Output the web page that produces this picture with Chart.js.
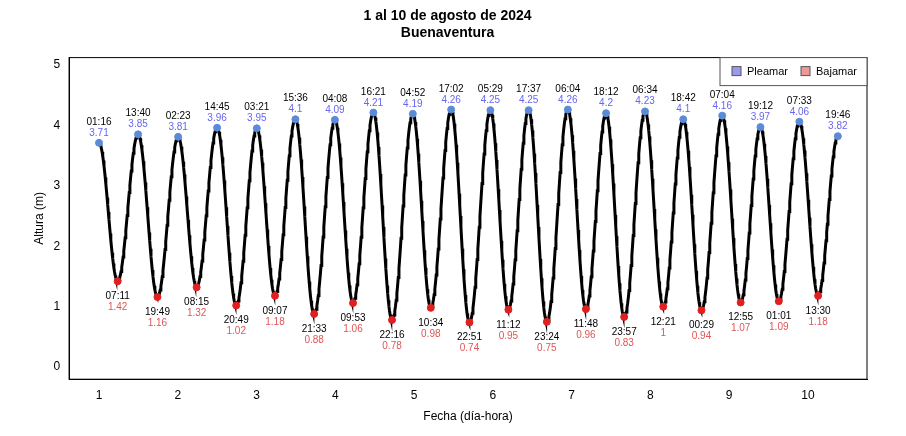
<!DOCTYPE html>
<html><head><meta charset="utf-8">
<script src="https://cdn.jsdelivr.net/npm/chart.js@4"></script>
<style>body{margin:0;background:#fff}#wrap{width:906px;height:436px}</style>
</head><body><div id="wrap"><canvas id="c"></canvas></div>
<script>
// extremes in order: day, time, height, type (H = pleamar, L = bajamar)
const days    = [1,1,1,1,2,2,2,2,3,3,3,3,4,4,4,4,5,5,5,5,6,6,6,6,7,7,7,7,8,8,8,9,9,9,9,10,10,10,10];
const times   = ['01:16','07:11','13:40','19:49','02:23','08:15','14:45','20:49','03:21','09:07','15:36','21:33','04:08','09:53','16:21','22:16','04:52','10:34','17:02','22:51','05:29','11:12','17:37','23:24','06:04','11:48','18:12','23:57','06:34','12:21','18:42','00:29','07:04','12:55','19:12','01:01','07:33','13:30','19:46'];
const heights = [3.71,1.42,3.85,1.16,3.81,1.32,3.96,1.02,3.95,1.18,4.1,0.88,4.09,1.06,4.21,0.78,4.19,0.98,4.26,0.74,4.25,0.95,4.25,0.75,4.26,0.96,4.2,0.83,4.23,1,4.1,0.94,4.16,1.07,3.97,1.09,4.06,1.18,3.82];
const kinds   = ['H','L','H','L','H','L','H','L','H','L','H','L','H','L','H','L','H','L','H','L','H','L','H','L','H','L','H','L','H','L','H','L','H','L','H','L','H','L','H'];
const dayTicks = [1,2,3,4,5,6,7,8,9,10];

const xScaleFactor = 0.96; // axis units per day
const t0 = days[0] * 24 + 1 + 16 / 60;
function toX(i) {
  const [h, m] = times[i].split(':').map(Number);
  return 1 + ((days[i] * 24 + h + m / 60) - t0) / 24 * xScaleFactor;
}
const ext = heights.map((v, i) => ({ x: toX(i), y: v }));

// smooth tide curve between extremes (cosine interpolation)
const curve = [];
for (let i = 0; i < ext.length - 1; i++) {
  const a = ext[i], b = ext[i + 1];
  for (let k = 0; k < 30; k++) {
    const f = k / 30;
    curve.push({ x: a.x + (b.x - a.x) * f, y: a.y + (b.y - a.y) * (1 - Math.cos(Math.PI * f)) / 2 });
  }
}
curve.push(ext[ext.length - 1]);

const FONT = 'Arial, "Liberation Sans"';

const labelPlugin = {
  id: 'labels',
  afterDatasetsDraw(chart) {
    const ctx = chart.ctx, xs = chart.scales.x, ys = chart.scales.y;
    ctx.save();
    ctx.textAlign = 'center';
    ctx.font = '10px ' + FONT;
    ext.forEach((p, i) => {
      const px = xs.getPixelForValue(p.x), py = ys.getPixelForValue(p.y);
      if (kinds[i] === 'H') {
        ctx.fillStyle = '#000'; ctx.fillText(times[i], px, py - 18);
        ctx.fillStyle = '#6666ee'; ctx.fillText(String(p.y), px, py - 7);
      } else {
        ctx.fillStyle = '#000'; ctx.fillText(times[i], px, py + 18);
        ctx.fillStyle = '#e05555'; ctx.fillText(String(p.y), px, py + 29);
      }
    });
    const a = chart.chartArea;
    ctx.strokeStyle = '#000'; ctx.lineWidth = 1;
    ctx.strokeRect(a.left, a.top, a.right - a.left, a.bottom - a.top);
    // legend box, top-right
    const lw = 147, lh = 28, lx = a.right - lw, ly = a.top;
    ctx.fillStyle = '#fff'; ctx.fillRect(lx, ly, lw, lh);
    ctx.strokeStyle = '#555'; ctx.strokeRect(lx, ly, lw, lh);
    ctx.font = '11px ' + FONT; ctx.textAlign = 'left'; ctx.textBaseline = 'middle';
    [['Pleamar', '#9999ee', lx + 12], ['Bajamar', '#ee9999', lx + 81]].forEach(([t, c, x]) => {
      ctx.fillStyle = c; ctx.fillRect(x, ly + 9, 9, 9);
      ctx.strokeStyle = '#555'; ctx.strokeRect(x, ly + 9, 9, 9);
      ctx.fillStyle = '#000'; ctx.fillText(t, x + 15, ly + 14);
    });
    ctx.restore();
  }
};

new Chart(document.getElementById('c'), {
  type: 'scatter',
  data: {
    datasets: [
      { label: 'curve', data: curve, showLine: true, borderColor: '#000', borderWidth: 3, pointRadius: 0, order: 2 },
      { label: 'Pleamar', data: ext.filter((p, i) => kinds[i] === 'H'), backgroundColor: '#5b8bd8', borderColor: '#5b8bd8', pointRadius: 3.5, order: 1 },
      { label: 'Bajamar', data: ext.filter((p, i) => kinds[i] === 'L'), backgroundColor: '#e02020', borderColor: '#e02020', pointRadius: 3.5, order: 1 }
    ]
  },
  options: {
    responsive: true, maintainAspectRatio: false, animation: false,
    layout: { padding: { left: 28, right: 39, top: 0, bottom: 8 } },
    plugins: {
      title: { display: true, text: ['1 al 10 de agosto de 2024', 'Buenaventura'], color: '#000',
        font: { size: 14, weight: 'bold', family: FONT }, padding: { top: 8, bottom: 16 } },
      legend: { display: false },
      tooltip: { enabled: false }
    },
    scales: {
      x: { type: 'linear', min: 0.62, max: 10.75,
        afterBuildTicks: s => { s.ticks = dayTicks.map(v => ({ value: v })); },
        grid: { display: false, tickLength: 6, tickColor: '#000' },
        border: { color: '#000' },
        ticks: { color: '#000', font: { size: 12, family: FONT } },
        title: { display: true, text: 'Fecha (día-hora)', color: '#000', font: { size: 12, family: FONT } } },
      y: { min: -0.2, max: 5.12,
        afterBuildTicks: s => { s.ticks = [0,1,2,3,4,5].map(v => ({ value: v })); },
        grid: { display: false, tickLength: 6, tickColor: '#000' },
        border: { color: '#000' },
        ticks: { color: '#000', font: { size: 12, family: FONT } },
        title: { display: true, text: 'Altura (m)', color: '#000', font: { size: 12, family: FONT } } }
    }
  },
  plugins: [labelPlugin]
});
</script></body></html>
